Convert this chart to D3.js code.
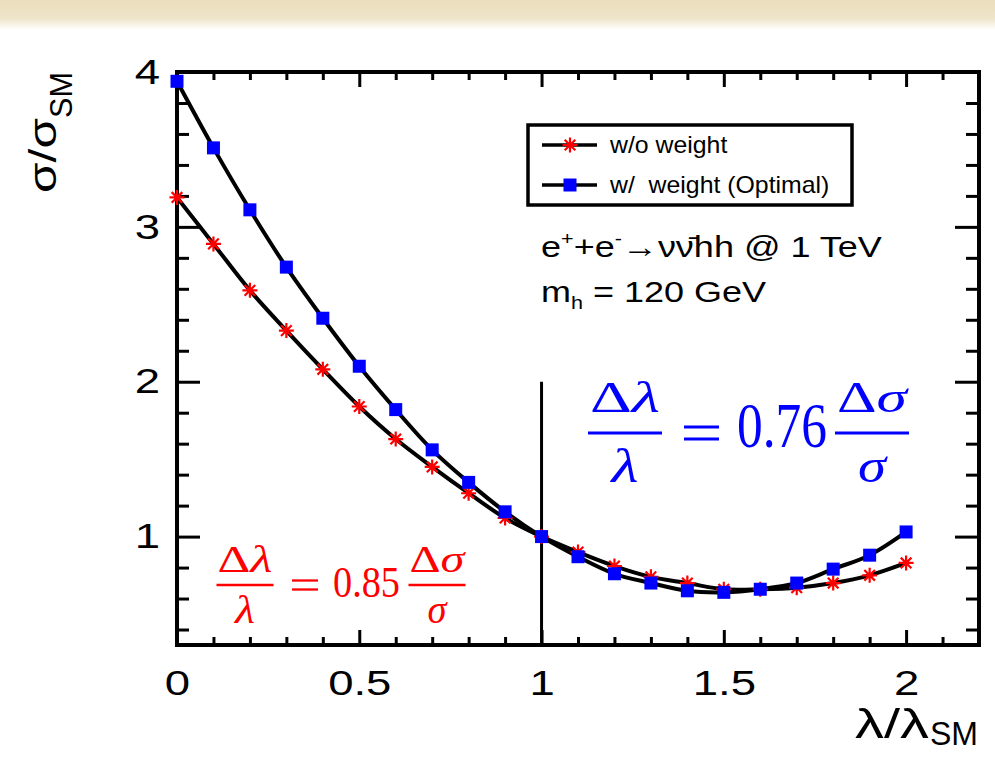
<!DOCTYPE html>
<html>
<head>
<meta charset="utf-8">
<script src="https://cdn.jsdelivr.net/npm/d3@7"></script>
<style>
  html, body { margin: 0; padding: 0; background: #fff; }
  svg { display: block; }
</style>
</head>
<body>
<svg id="chart" width="995" height="766"></svg>
<script>
// ---------------- data ----------------
const lambdaRatio = [0.0, 0.1, 0.2, 0.3, 0.4, 0.5, 0.6, 0.7, 0.8, 0.9, 1.0,
                     1.1, 1.2, 1.3, 1.4, 1.5, 1.6, 1.7, 1.8, 1.9, 2.0];
const sigmaNoWeight = [3.19, 2.89, 2.59, 2.33, 2.08, 1.84, 1.63, 1.45, 1.28, 1.12, 1.00,
                       0.90, 0.81, 0.74, 0.70, 0.66, 0.66, 0.67, 0.70, 0.75, 0.83];
const sigmaWeight   = [3.94, 3.51, 3.11, 2.74, 2.41, 2.10, 1.82, 1.56, 1.35, 1.16, 1.00,
                       0.87, 0.76, 0.70, 0.65, 0.64, 0.66, 0.70, 0.79, 0.88, 1.03];
const xMajorTicks = [0, 0.5, 1, 1.5, 2];
const xTickLabels = ["0", "0.5", "1", "1.5", "2"];
const yMajorTicks = [1, 2, 3, 4];
const yTickLabels = ["1", "2", "3", "4"];
const seriesNames = ["w/o weight", "w/  weight (Optimal)"];

// ---------------- layout ----------------
const svg = d3.select("#chart");
const L = 177, R = 979, T = 72, B = 645;
const x = d3.scaleLinear().domain([0, 2.2]).range([L, R]);
const y = d3.scaleLinear().domain([0.3, 4.0]).range([B, T]);
const sans = "'Liberation Sans', Arial, Helvetica, sans-serif";
const serif = "'Liberation Serif', 'Times New Roman', serif";
const SX = 1.3; // horizontal stretch of tick labels

// background band at top
const defs = svg.append("defs");
const grad = defs.append("linearGradient").attr("id", "topband")
  .attr("x1", 0).attr("y1", 0).attr("x2", 0).attr("y2", 1);
grad.append("stop").attr("offset", "0%").attr("stop-color", "#ebdebe");
grad.append("stop").attr("offset", "60%").attr("stop-color", "#efe4c9");
grad.append("stop").attr("offset", "100%").attr("stop-color", "#ffffff");
svg.append("rect").attr("x", 0).attr("y", 0).attr("width", 995).attr("height", 766).attr("fill", "#fff");
svg.append("rect").attr("x", 0).attr("y", 0).attr("width", 995).attr("height", 30).attr("fill", "url(#topband)");

// ---------------- axes ----------------
const xMinor = d3.range(1, 23).map(i => i / 10).filter(v => !xMajorTicks.some(m => Math.abs(m - v) < 1e-9));
const yMinor = d3.range(2, 21).map(i => i / 5).filter(v => !yMajorTicks.some(m => Math.abs(m - v) < 1e-9));

function styleAxis(g) {
  g.select(".domain").remove();
  g.selectAll("line").attr("stroke", "#000").attr("stroke-width", 3);
  g.selectAll("text").attr("font-family", sans).attr("font-size", 35).attr("fill", "#000")
    .attr("transform", `scale(${SX},1)`);
}

// bottom
svg.append("g").attr("transform", `translate(0,${B})`)
  .call(d3.axisBottom(x).tickValues(xMajorTicks).tickSize(-15).tickPadding(25)
    .tickFormat((d, i) => xTickLabels[i]))
  .call(styleAxis);
svg.append("g").attr("transform", `translate(0,${B})`)
  .call(d3.axisBottom(x).tickValues(xMinor).tickSize(-8).tickFormat(""))
  .call(styleAxis);
// top
svg.append("g").attr("transform", `translate(0,${T})`)
  .call(d3.axisTop(x).tickValues(xMajorTicks).tickSize(-15).tickFormat(""))
  .call(styleAxis);
svg.append("g").attr("transform", `translate(0,${T})`)
  .call(d3.axisTop(x).tickValues(xMinor).tickSize(-8).tickFormat(""))
  .call(styleAxis);
// left
svg.append("g").attr("transform", `translate(${L},0)`)
  .call(d3.axisLeft(y).tickValues(yMajorTicks).tickSize(-23).tickPadding(13)
    .tickFormat((d, i) => yTickLabels[i]))
  .call(styleAxis);
svg.append("g").attr("transform", `translate(${L},0)`)
  .call(d3.axisLeft(y).tickValues(yMinor).tickSize(-12).tickFormat(""))
  .call(styleAxis);
// right
svg.append("g").attr("transform", `translate(${R},0)`)
  .call(d3.axisRight(y).tickValues(yMajorTicks).tickSize(-24).tickFormat(""))
  .call(styleAxis);
svg.append("g").attr("transform", `translate(${R},0)`)
  .call(d3.axisRight(y).tickValues(yMinor).tickSize(-13).tickFormat(""))
  .call(styleAxis);

// frame
svg.append("rect").attr("x", L).attr("y", T).attr("width", R - L).attr("height", B - T)
  .attr("fill", "none").attr("stroke", "#000").attr("stroke-width", 4);

// vertical line at lambda = 1
svg.append("line")
  .attr("x1", x(1)).attr("x2", x(1)).attr("y1", y(0.3)).attr("y2", y(2))
  .attr("stroke", "#000").attr("stroke-width", 3);

// ---------------- curves ----------------
const lineGen = d3.line().x(d => x(d[0])).y(d => y(d[1])).curve(d3.curveCatmullRom.alpha(0.5));
const dNo = lambdaRatio.map((v, i) => [v, sigmaNoWeight[i]]);
const dW = lambdaRatio.map((v, i) => [v, sigmaWeight[i]]);
[dNo, dW].forEach(d => {
  svg.append("path").datum(d).attr("d", lineGen)
    .attr("fill", "none").attr("stroke", "#000").attr("stroke-width", 4);
});

function starPath(r) {
  const a = r * Math.SQRT1_2;
  return `M${-r},0L${r},0M0,${-r}L0,${r}M${-a},${-a}L${a},${a}M${-a},${a}L${a},${-a}`;
}
function drawStar(g, cx, cy) {
  g.append("path").attr("d", starPath(7.5)).attr("transform", `translate(${cx},${cy})`)
    .attr("stroke", "#ff0000").attr("stroke-width", 2.2).attr("fill", "none");
}
function drawSquare(g, cx, cy) {
  g.append("rect").attr("x", cx - 6.5).attr("y", cy - 6.5).attr("width", 13).attr("height", 13)
    .attr("fill", "#0000ff");
}
const mk = svg.append("g");
dNo.forEach(d => drawStar(mk, x(d[0]), y(d[1])));
dW.forEach(d => drawSquare(mk, x(d[0]), y(d[1])));

// ---------------- legend ----------------
const lg = svg.append("g");
lg.append("rect").attr("x", 528).attr("y", 125).attr("width", 324).attr("height", 80)
  .attr("fill", "#fff").attr("stroke", "#000").attr("stroke-width", 3.5);
[145, 185].forEach((ly, i) => {
  lg.append("line").attr("x1", 542).attr("x2", 597).attr("y1", ly).attr("y2", ly)
    .attr("stroke", "#000").attr("stroke-width", 3.5);
  if (i === 0) drawStar(lg, 570, ly); else drawSquare(lg, 570, ly);
  lg.append("text").attr("transform", `translate(610,${ly + 8}) scale(1.08,1)`)
    .attr("font-family", sans).attr("font-size", 23).attr("fill", "#000")
    .style("white-space", "pre").text(seriesNames[i]);
});

// ---------------- annotation text ----------------
const proc = svg.append("text").attr("transform", "translate(541,257) scale(1.2,1)")
  .attr("font-family", sans).attr("font-size", 30).attr("fill", "#000");
proc.append("tspan").text("e");
proc.append("tspan").attr("font-size", 18).attr("dy", -12).text("+");
proc.append("tspan").attr("dy", 12).text("+e");
proc.append("tspan").attr("font-size", 18).attr("dy", -12).text("-");
proc.append("tspan").attr("dy", 12).text("\u2192\u03BD\u03BD\u0304hh @ 1 TeV");

const mh = svg.append("text").attr("transform", "translate(541,302) scale(1.2,1)")
  .attr("font-family", sans).attr("font-size", 30).attr("fill", "#000");
mh.append("tspan").text("m");
mh.append("tspan").attr("font-size", 18).attr("dy", 7).text("h");
mh.append("tspan").attr("dy", -7).text(" = 120 GeV");

// axis titles
svg.append("text").attr("transform", "translate(56,193) rotate(-90)")
  .attr("font-family", sans).attr("font-size", 38).attr("fill", "#000")
  .attr("textLength", 75).attr("lengthAdjust", "spacingAndGlyphs").text("\u03C3/\u03C3");
svg.append("text").attr("transform", "translate(72,118) rotate(-90)")
  .attr("font-family", sans).attr("font-size", 31).attr("fill", "#000")
  .attr("textLength", 46).attr("lengthAdjust", "spacingAndGlyphs").text("SM");

svg.append("text").attr("x", 855).attr("y", 738)
  .attr("font-family", sans).attr("font-size", 40).attr("fill", "#000")
  .attr("textLength", 74).attr("lengthAdjust", "spacingAndGlyphs").text("\u03BB/\u03BB");
svg.append("text").attr("x", 930).attr("y", 745)
  .attr("font-family", sans).attr("font-size", 34).attr("fill", "#000")
  .attr("textLength", 48).attr("lengthAdjust", "spacingAndGlyphs").text("SM");

// ---------------- formulas ----------------
function formula(o) {
  const g = svg.append("g").attr("fill", o.color);
  function frac(cx, topTxt, botTxt, botW) {
    const t = g.append("text").attr("x", cx - o.numerW / 2).attr("y", o.numY)
      .attr("font-family", serif).attr("font-size", o.fracSize)
      .attr("textLength", o.numerW).attr("lengthAdjust", "spacingAndGlyphs");
    t.append("tspan").text("\u0394");
    t.append("tspan").attr("font-style", "italic").text(topTxt);
    g.append("line").attr("x1", cx - o.barW / 2).attr("x2", cx + o.barW / 2)
      .attr("y1", o.barY).attr("y2", o.barY)
      .attr("stroke", o.color).attr("stroke-width", o.barT);
    g.append("text").attr("x", cx - botW / 2).attr("y", o.denY)
      .attr("font-family", serif).attr("font-size", o.fracSize * 1.1)
      .attr("font-style", "italic")
      .attr("textLength", botW).attr("lengthAdjust", "spacingAndGlyphs").text(botTxt);
  }
  frac(o.f1x, "\u03BB", "\u03BB", o.lamW);
  // equals sign
  [-o.eqGap, o.eqGap].forEach(dy => {
    g.append("line").attr("x1", o.eqX0).attr("x2", o.eqX1)
      .attr("y1", o.barY + dy).attr("y2", o.barY + dy)
      .attr("stroke", o.color).attr("stroke-width", o.barT);
  });
  const sx = o.numW / (1.75 * o.bigSize);
  g.append("text").attr("transform", `translate(${o.numX},${o.numBase}) scale(${sx},1)`)
    .attr("font-family", serif).attr("font-size", o.bigSize).text(o.num);
  frac(o.f2x, "\u03C3", "\u03C3", o.sigW);
}
formula({ color: "#0000ff", fracSize: 44, bigSize: 63, barY: 433, barW: 74, barT: 3,
          numY: 412, denY: 482, numerW: 70, lamW: 27, sigW: 28,
          f1x: 625, eqX0: 684, eqX1: 719, eqGap: 6,
          numX: 737, numW: 90, numBase: 447, num: "0.76", f2x: 872 });
formula({ color: "#ff0000", fracSize: 37, bigSize: 44, barY: 585, barW: 57, barT: 2.3,
          numY: 572, denY: 623, numerW: 55, lamW: 20, sigW: 19,
          f1x: 245, eqX0: 292, eqX1: 318, eqGap: 4.5,
          numX: 333, numW: 67, numBase: 597, num: "0.85", f2x: 437 });
</script>
</body>
</html>
